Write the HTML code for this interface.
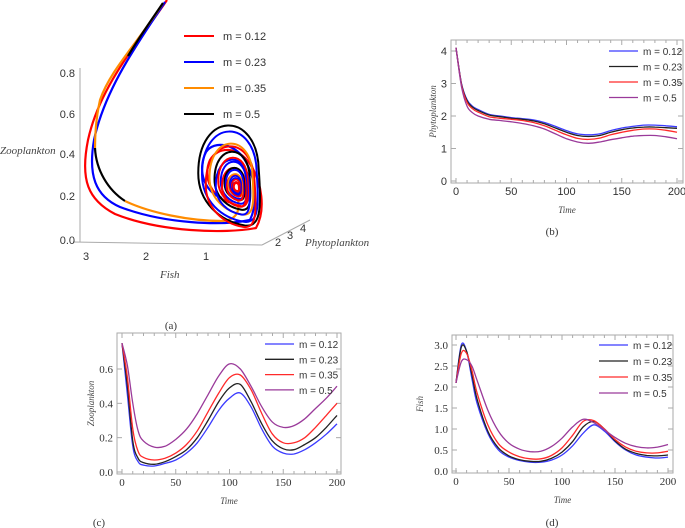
<!DOCTYPE html>
<html><head><meta charset="utf-8"><style>
body{margin:0;background:#fff;width:685px;height:528px;overflow:hidden}
svg{display:block}
text{font-family:"Liberation Sans",sans-serif;fill:#333}
.ser{font-family:"Liberation Serif",serif;font-style:italic;fill:#444}
.cap{font-family:"Liberation Serif",serif;fill:#333}
</style></head><body>
<svg id="s" width="685" height="528" xmlns="http://www.w3.org/2000/svg">
<g id="pa">
 <line x1="80" y1="68" x2="80" y2="242" stroke="#aaa" stroke-width="1"/>
 <line x1="73" y1="242" x2="262" y2="245" stroke="#aaa"/>
 <line x1="262" y1="245" x2="310" y2="220" stroke="#aaa"/>
 <text x="75" y="77" font-size="11" text-anchor="end">0.8</text>
 <text x="75" y="118" font-size="11" text-anchor="end">0.6</text>
 <text x="75" y="158" font-size="11" text-anchor="end">0.4</text>
 <text x="75" y="200" font-size="11" text-anchor="end">0.2</text>
 <text x="75" y="244" font-size="11" text-anchor="end">0.0</text>
 <text x="86" y="260" font-size="11" text-anchor="middle">3</text>
 <text x="146" y="260" font-size="11" text-anchor="middle">2</text>
 <text x="206" y="260" font-size="11" text-anchor="middle">1</text>
 <text x="278" y="246" font-size="11" text-anchor="middle">2</text>
 <text x="290" y="239" font-size="11" text-anchor="middle">3</text>
 <text x="303" y="232" font-size="11" text-anchor="middle">4</text>
 <text class="ser" x="0" y="154" font-size="11">Zooplankton</text>
 <text class="ser" x="160" y="278" font-size="11">Fish</text>
 <text class="ser" x="305" y="246" font-size="11">Phytoplankton</text>
 <g fill="none" stroke-width="2.2">
  <path d="M167,0 C140,40 100,85 88,140 C80,180 88,200 115,214 C160,232 225,234 256,228 C266,210 262,182 250,164 C238,146 218,146 210,160 C202,178 212,198 232,203" stroke="#f00"/>
  <path d="M165,2 C140,40 105,88 94,140 C88,175 95,196 120,207 C165,224 222,226 250,220 C258,203 256,180 246,162 C236,143 214,140 206,152 C197,170 204,192 222,198" stroke="#00f"/>
  <path d="M163,3 C140,40 110,70 100,100 C96,118 95,132 95,148" stroke="#ff8c00"/>
  <path d="M163,3 C150,22 140,36 128,56" stroke="#000"/>
  <path d="M95,148 C96,170 108,190 125,201" stroke="#000"/>
  <path d="M125,201 C150,213 190,221 222,221 C236,220 240,212 238,200" stroke="#ff8c00"/>
 </g>
 <g id="spirals" fill="none" stroke-width="2"></g>
 <g>
  <line x1="184" y1="36" x2="214" y2="36" stroke="#f00" stroke-width="2"/><text x="223" y="40" font-size="11">m = 0.12</text>
  <line x1="184" y1="62" x2="214" y2="62" stroke="#00f" stroke-width="2"/><text x="223" y="66" font-size="11">m = 0.23</text>
  <line x1="184" y1="88" x2="214" y2="88" stroke="#ff8c00" stroke-width="2"/><text x="223" y="92" font-size="11">m = 0.35</text>
  <line x1="184" y1="114" x2="214" y2="114" stroke="#000" stroke-width="2"/><text x="223" y="118" font-size="11">m = 0.5</text>
 </g>
 <text class="cap" x="171" y="329" font-size="11" text-anchor="middle">(a)</text>
</g>
</svg>
<script>
const T=[0,5,10,15,20,30,40,50,60,70,80,90,100,110,120,130,140,150,160,170,180,190,200];
const legendLabels=["m = 0.12","m = 0.23","m = 0.35","m = 0.5"];
const colors=["#3b3bff","#222","#ff2a2a","#9a3a9a"];
const xTicks=[0,50,100,150,200];
const phyto12=[4.1,3.0,2.5,2.3,2.2,2.05,2.0,1.95,1.92,1.88,1.8,1.68,1.55,1.45,1.42,1.45,1.55,1.63,1.68,1.72,1.72,1.7,1.67];
const phyto23=[4.1,2.98,2.47,2.27,2.17,2.03,1.98,1.93,1.9,1.85,1.76,1.63,1.5,1.4,1.37,1.4,1.5,1.58,1.63,1.66,1.66,1.64,1.62];
const phyto35=[4.1,2.95,2.42,2.22,2.12,1.98,1.93,1.9,1.86,1.8,1.7,1.56,1.42,1.31,1.28,1.32,1.42,1.5,1.56,1.6,1.6,1.56,1.5];
const phyto50=[4.1,2.9,2.3,2.1,2.0,1.9,1.86,1.82,1.77,1.7,1.6,1.45,1.3,1.2,1.16,1.2,1.27,1.33,1.38,1.4,1.4,1.36,1.3];
const phytoTicks=[0,1,2,3,4];
const zoo12=[0.75,0.45,0.15,0.06,0.04,0.035,0.05,0.07,0.11,0.17,0.26,0.36,0.43,0.46,0.38,0.25,0.15,0.11,0.105,0.13,0.17,0.22,0.28];
const zoo23=[0.75,0.5,0.18,0.08,0.055,0.045,0.06,0.09,0.13,0.2,0.3,0.41,0.49,0.51,0.41,0.28,0.18,0.135,0.13,0.16,0.2,0.26,0.33];
const zoo35=[0.75,0.55,0.25,0.12,0.085,0.07,0.08,0.11,0.16,0.24,0.35,0.46,0.55,0.565,0.48,0.34,0.22,0.17,0.17,0.2,0.26,0.33,0.4];
const zoo50=[0.75,0.62,0.4,0.24,0.18,0.145,0.15,0.19,0.25,0.34,0.45,0.56,0.63,0.6,0.5,0.38,0.29,0.26,0.27,0.31,0.37,0.43,0.5];
const zooTicks=[0,0.2,0.4,0.6];
const fish12=[2.1,3.0,2.85,2.2,1.6,0.9,0.5,0.33,0.25,0.21,0.21,0.26,0.38,0.6,0.9,1.1,0.95,0.7,0.5,0.38,0.33,0.31,0.33];
const fish23=[2.1,2.95,2.85,2.3,1.7,0.95,0.55,0.36,0.27,0.23,0.23,0.3,0.45,0.7,1.05,1.18,1.0,0.72,0.52,0.42,0.37,0.36,0.38];
const fish35=[2.1,2.8,2.8,2.4,1.85,1.1,0.65,0.45,0.34,0.29,0.29,0.37,0.55,0.85,1.18,1.2,1.0,0.75,0.57,0.47,0.43,0.43,0.47];
const fish50=[2.1,2.6,2.65,2.5,2.15,1.45,0.95,0.66,0.52,0.46,0.47,0.58,0.78,1.05,1.23,1.15,0.98,0.8,0.66,0.58,0.55,0.57,0.63];
const fishTicks=[0,0.5,1.0,1.5,2.0,2.5,3.0];

const NS="http://www.w3.org/2000/svg";
const svg=document.getElementById('s');
function mk(tag,attrs,parent){const e=document.createElementNS(NS,tag);for(const k in attrs)e.setAttribute(k,attrs[k]);(parent||svg).appendChild(e);return e;}
function smooth(pts){let d="M"+pts[0][0].toFixed(1)+","+pts[0][1].toFixed(1);
 for(let i=0;i<pts.length-1;i++){const p0=pts[Math.max(0,i-1)],p1=pts[i],p2=pts[i+1],p3=pts[Math.min(pts.length-1,i+2)];
  const c1=[p1[0]+(p2[0]-p0[0])/6,p1[1]+(p2[1]-p0[1])/6],c2=[p2[0]-(p3[0]-p1[0])/6,p2[1]-(p3[1]-p1[1])/6];
  d+=" C"+c1.map(v=>v.toFixed(1)).join(",")+" "+c2.map(v=>v.toFixed(1)).join(",")+" "+p2[0].toFixed(1)+","+p2[1].toFixed(1);}
 return d;}
function panel(cfg){
 const g=mk('g',{});
 
 
 const X=v=>cfg.x0+(v-0)/200*(cfg.x1-cfg.x0);
 const Y=v=>cfg.y0+(v-cfg.ymin)/(cfg.ymax-cfg.ymin)*(cfg.y1-cfg.y0);
 const fr=mk('rect',{x:cfg.fx0,y:cfg.fy0,width:cfg.fx1-cfg.fx0,height:cfg.fy1-cfg.fy0,fill:'none',stroke:'#aaa','stroke-width':1},g);
 
 
 for(let t=0;t<=200;t+=10){const x=X(t),big=t%50==0?5:3;
  mk('line',{x1:x,y1:cfg.fy1,x2:x,y2:cfg.fy1-big,stroke:'#aaa'},g);mk('line',{x1:x,y1:cfg.fy0,x2:x,y2:cfg.fy0+big,stroke:'#aaa'},g);}
 xTicks.forEach(t=>{const tx=mk('text',{x:X(t),y:cfg.fy1+12,'font-size':11,'text-anchor':'middle',class:cfg.serif?'cap':''},g);tx.textContent=t;
  
  });
 cfg.yt.forEach(v=>{const y=Y(v);
  mk('line',{x1:cfg.fx0,y1:y,x2:cfg.fx0+5,y2:y,stroke:'#aaa'},g);mk('line',{x1:cfg.fx1,y1:y,x2:cfg.fx1-5,y2:y,stroke:'#aaa'},g);
  const tx=mk('text',{x:cfg.fx0-4,y:y+4,'font-size':11,'text-anchor':'end',class:cfg.serif?'cap':''},g);tx.textContent=cfg.fmt(v);
  
  });
 cfg.series.forEach((s,i)=>{const p=mk('path',{d:smooth(T.map((t,j)=>[X(t),Y(s[j])])),fill:'none',stroke:colors[i],'stroke-width':1.3},g);
  
  });
 legendLabels.forEach((l,i)=>{const y=cfg.ly+i*cfg.ld;
  const ln=mk('line',{x1:cfg.lx,y1:y,x2:cfg.lx+29,y2:y,stroke:colors[i],'stroke-width':1.3},g);
  
  
  const tx=mk('text',{x:cfg.lx+34,y:y+4,'font-size':10},g);tx.textContent=l;
  
  });
 const xt=mk('text',{x:(cfg.fx0+cfg.fx1)/2,y:cfg.fy1+30,'font-size':9,'text-anchor':'middle',class:'ser'},g);xt.textContent='Time';
 
 
 const cy=(cfg.fy0+cfg.fy1)/2;
 const yt=mk('text',{x:cfg.ytx,y:cy,'font-size':9,'text-anchor':'middle',class:'ser',transform:'rotate(-90 '+cfg.ytx+' '+cy+')'},g);yt.textContent=cfg.ylab;
 
 
 const cp=mk('text',{x:cfg.capx,y:cfg.capy,'font-size':11,'text-anchor':'middle',class:'cap'},g);cp.textContent=cfg.cap;
 
 
}
panel({name:'panel-b-phytoplankton',fx0:451,fx1:683,fy0:40,fy1:183,x0:456,x1:677,y0:181,y1:51,ymin:0,ymax:4,yt:phytoTicks,fmt:v=>v,
 series:[phyto12,phyto23,phyto35,phyto50],lx:609,ly:51,ld:15.5,ytx:436,ylab:'Phytoplankton',capx:552,capy:235,cap:'(b)'});
panel({name:'panel-c-zooplankton',fx0:117,fx1:341,fy0:333,fy1:474,x0:122,x1:337,y0:472,y1:369,ymin:0,ymax:0.6,yt:zooTicks,fmt:v=>v.toFixed(1),serif:true,
 series:[zoo12,zoo23,zoo35,zoo50],lx:265,ly:344,ld:15.3,ytx:94,ylab:'Zooplankton',capx:99,capy:526,cap:'(c)'});
panel({name:'panel-d-fish',fx0:452,fx1:673,fy0:335,fy1:473,x0:456,x1:668,y0:471,y1:345,ymin:0,ymax:3,yt:fishTicks,fmt:v=>v.toFixed(1),serif:true,
 series:[fish12,fish23,fish35,fish50],lx:599,ly:345,ld:16,ytx:423,ylab:'Fish',capx:552,capy:526,cap:'(d)'});

// panel (a) spirals
const sp=document.getElementById('spirals');
const ringColors=["#000","#00f","#f00","#ff8c00","#000","#00f","#f00","#00f","#f00","#000","#00f","#f00","#ff8c00","#00f","#f00","#00f","#f00","#00f","#f00","#f00"];
const ringSize=[31,28,25,22,18,17,15,13,12,10,9,8,7,6,5.5,5,4.2,3.6,3,2.4];
ringSize.forEach((r,i)=>{const s=1.35,cx=237-r*0.25,cy=188-r*0.75+(i%3==2?r*0.35:0);
 const d="M"+(cx-r)+","+(cy+r*0.2*s)+" C"+(cx-r)+","+(cy-r*1.3*s)+" "+(cx+r*0.9)+","+(cy-r*1.3*s)+" "+(cx+r*0.95)+","+(cy+r*0.1*s)+
 " C"+(cx+r*1.05)+","+(cy+r*1.1*s)+" "+(cx+r)+","+(cy+r*1.5*s)+" "+(cx+r*0.5)+","+(cy+r*1.45*s)+" C"+(cx-r*0.3)+","+(cy+r*1.35*s)+" "+(cx-r)+","+(cy+r*0.9*s)+" "+(cx-r)+","+(cy+r*0.2*s);
 const p=mk('path',{d:d,stroke:ringColors[i],'stroke-width':r<8?1.6:2},sp);
 
 });
</script>
</body></html>
